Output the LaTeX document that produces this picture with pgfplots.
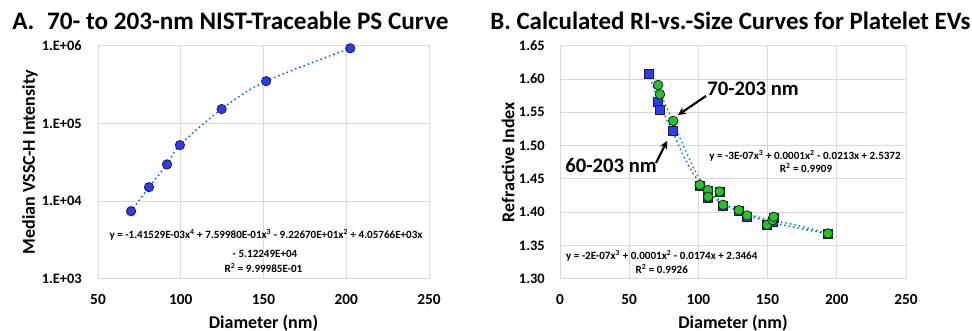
\documentclass[border=0pt]{standalone}
\usepackage{pgfplots}
\pgfplotsset{compat=1.18}
\usepackage{fontspec}
\setmainfont{Carlito}
\usetikzlibrary{arrows.meta}
\definecolor{mblue}{RGB}{45,60,240}
\definecolor{mgreen}{RGB}{30,200,30}
\definecolor{tblue}{RGB}{0,112,192}
\definecolor{tgreen}{RGB}{0,176,80}
\definecolor{gridc}{RGB}{217,217,217}
\definecolor{medge}{RGB}{30,30,60}
\pgfplotsset{
  common/.style={
    scale only axis, anchor=south west,
    axis line style={gridc, line width=0.75pt},
    grid=major, major grid style={gridc, line width=0.75pt},
    major tick length=0pt, minor tick length=0pt,
    xticklabel style={font=\bfseries\fontsize{11.5}{13}\selectfont, anchor=base, yshift=-19pt, inner sep=0pt},
    yticklabel style={font=\bfseries\fontsize{10.8}{12}\selectfont, anchor=east, inner sep=0pt},
    label style={font=\bfseries\fontsize{13.5}{15}\selectfont},
    clip=false,
  },
  trend/.style={line width=1.6pt, line cap=round, dash pattern=on 0pt off 3.4pt, smooth, mark=none},
}
\begin{document}
\begin{tikzpicture}
\path[use as bounding box] (0,0) rectangle (729pt,248.25pt);
% Panel A
\begin{axis}[common, at={(73.5pt,39.2pt)}, width=248.25pt, height=174.75pt,
  xmin=50, xmax=250, ymode=log, ymin=1e3, ymax=1e6,
  xtick={50,100,150,200,250}, xticklabels={50,100,150,200,250},
  ytick={1e3,1e4,1e5,1e6}, yticklabels={1.E+03,1.E+04,1.E+05,1.E+06},
  yticklabel style={xshift=-12pt},
  xlabel={Diameter (nm)}, ylabel={Median VSSC-H Intensity},
  xlabel style={at={(axis description cs:0.5,-0.19)}, anchor=center},
  ylabel style={at={(axis description cs:-0.2054,0.5)}, anchor=center}]
\addplot[trend, tblue] coordinates {
(70,7400) (80.8,15100) (91.7,29600) (99.5,52500) (124.7,153000) (151.6,350000) (202.4,926000)};
\addplot[only marks, mark=*, mark size=3.5pt, mark options={fill=mblue, draw=medge, line width=0.6pt}] coordinates {
(70,7400) (80.8,15100) (91.7,29600) (99.5,52500) (124.7,153000) (151.6,350000) (202.4,926000)};
\end{axis}
% Panel B
\begin{axis}[common, at={(420pt,39.2pt)}, width=259.5pt, height=174.75pt,
  xmin=0, xmax=250, ymin=1.30, ymax=1.65,
  xtick={0,50,100,150,200,250}, xticklabels={0,50,100,150,200,250},
  ytick={1.30,1.35,1.40,1.45,1.50,1.55,1.60,1.65},
  yticklabels={1.30,1.35,1.40,1.45,1.50,1.55,1.60,1.65},
  yticklabel style={xshift=-11.25pt},
  xlabel={Diameter (nm)}, ylabel={Refractive Index},
  xlabel style={at={(axis description cs:0.5,-0.19)}, anchor=center},
  ylabel style={at={(axis description cs:-0.1503,0.5)}, anchor=center}]
\addplot[only marks, mark=square*, mark size=3.4pt, mark options={fill=mblue, draw=medge, line width=0.6pt}] coordinates {
(64.0,1.608) (70.9,1.565) (72.2,1.553) (81.8,1.522) (101.0,1.440) (107.0,1.432) (107.0,1.422)
(115.4,1.430) (117.8,1.410) (129.2,1.402) (135.2,1.393) (149.6,1.381) (153.5,1.386) (154.4,1.392) (193.6,1.367)};
\addplot[only marks, mark=*, mark size=3.6pt, mark options={fill=mgreen, draw=medge, line width=0.6pt}] coordinates {
(70.9,1.591) (72.2,1.577) (81.8,1.537) (101.0,1.441) (107.0,1.433) (107.0,1.423) (115.4,1.431)
(117.8,1.411) (129.2,1.403) (135.2,1.395) (149.6,1.381) (153.5,1.388) (154.4,1.393) (193.6,1.368)};
\addplot[trend, tblue] coordinates {
(64,1.607) (68,1.585) (72,1.562) (77,1.540) (82,1.518) (88,1.490) (94,1.466) (100,1.447) (110,1.424) (120,1.410) (135,1.396) (150,1.386) (170,1.377) (194,1.367)};
\addplot[trend, tgreen] coordinates {
(70,1.592) (74,1.572) (78,1.553) (82,1.535) (88,1.505) (94,1.478) (100,1.453) (110,1.428) (120,1.411) (135,1.398) (150,1.389) (170,1.381) (194,1.368)};
\end{axis}
% Titles
\node[anchor=base west, inner sep=0pt, font=\bfseries\fontsize{18.9}{21}\selectfont] at (9pt,226.1pt) {A.\hspace{9.5pt}70- to 203-nm NIST-Traceable PS Curve};
\node[anchor=base west, inner sep=0pt, font=\bfseries\fontsize{18.7}{21}\selectfont] at (367.5pt,226.1pt) {B. Calculated RI-vs.-Size Curves for Platelet EVs};
% Equations
\begin{scope}[every node/.style={font=\bfseries\fontsize{8.3}{10}\selectfont, inner sep=0pt, anchor=center}]
\node at (199.5pt,72pt) {y = -1.41529E-03x\textsuperscript{4} + 7.59980E-01x\textsuperscript{3} - 9.22670E+01x\textsuperscript{2} + 4.05766E+03x};
\node at (198.75pt,58.1pt) {- 5.12249E+04};
\node at (197.6pt,47.25pt) {R\textsuperscript{2} = 9.99985E-01};
\node at (603.75pt,131.25pt) {y = -3E-07x\textsuperscript{3} + 0.0001x\textsuperscript{2} - 0.0213x + 2.5372};
\node at (604.5pt,122.25pt) {R\textsuperscript{2} = 0.9909};
\node at (496.3pt,56.25pt) {y = -2E-07x\textsuperscript{3} + 0.0001x\textsuperscript{2} - 0.0174x + 2.3464};
\node at (496.3pt,46.5pt) {R\textsuperscript{2} = 0.9926};
\end{scope}
% Annotations
\node[font=\bfseries\fontsize{15.5}{17}\selectfont, inner sep=0pt] at (564.75pt,181.5pt) {70-203 nm};
\node[font=\bfseries\fontsize{15.5}{17}\selectfont, inner sep=0pt] at (458.25pt,123.75pt) {60-203 nm};
\draw[line width=1.6pt, -{Stealth[length=6pt,width=6pt]}] (529.5pt,176.25pt) -- (508.5pt,162pt);
\draw[line width=1.6pt, -{Stealth[length=6pt,width=6pt]}] (492pt,126pt) -- (500.25pt,142.5pt);
\end{tikzpicture}
\end{document}
